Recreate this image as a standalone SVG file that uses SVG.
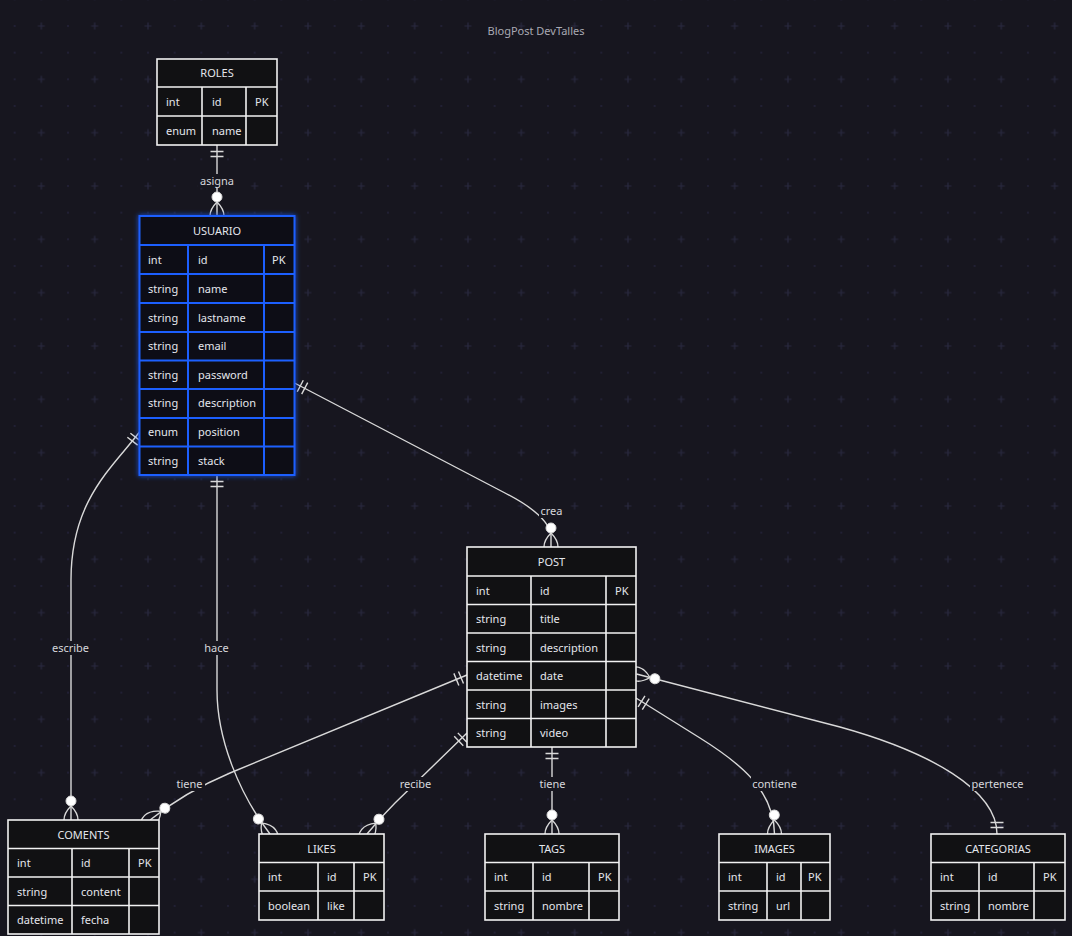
<svg xmlns="http://www.w3.org/2000/svg" width="1072" height="936" viewBox="0 0 1072 936">
  <defs>
    <pattern id="grid" patternUnits="userSpaceOnUse" x="14.67" y="-0.67" width="53.33" height="53.33">
      <circle cx="0" cy="0" r="1" fill="#23223a"/>
      <circle cx="26.67" cy="0" r="1" fill="#23223a"/>
      <circle cx="53.33" cy="0" r="1" fill="#23223a"/>
      <circle cx="0" cy="26.67" r="1" fill="#23223a"/>
      <circle cx="53.33" cy="26.67" r="1" fill="#23223a"/>
      <circle cx="0" cy="53.33" r="1" fill="#23223a"/>
      <circle cx="26.67" cy="53.33" r="1" fill="#23223a"/>
      <circle cx="53.33" cy="53.33" r="1" fill="#23223a"/>
      <path d="M23.2,26.67 H30.1 M26.67,23.2 V30.1" stroke="#29283f" stroke-width="1.2"/>
    </pattern>
    <!-- exactly one: two bars across the line near the entity -->
    <marker id="one" markerUnits="userSpaceOnUse" orient="auto-start-reverse" refX="0" refY="0" viewBox="-20 -10 40 20" markerWidth="40" markerHeight="20" overflow="visible">
      <path d="M-6.5,-6.5 V6.5 M-11.5,-6.5 V6.5" stroke="#d9d9d9" stroke-width="1.4" fill="none"/>
    </marker>
    <!-- zero or more: circle plus crow's foot -->
    <marker id="many0" markerUnits="userSpaceOnUse" orient="auto-start-reverse" refX="0" refY="0" viewBox="-30 -15 60 30" markerWidth="60" markerHeight="30" overflow="visible">
      <path d="M-14,0 Q0,-14 14,0 Q0,14 -14,0" stroke="#d9d9d9" stroke-width="1.3" fill="none"/>
      <circle cx="-19" cy="0" r="5" fill="#ffffff" stroke="#d9d9d9" stroke-width="1"/>
    </marker>
    <filter id="glow" x="-20%" y="-20%" width="140%" height="140%">
      <feGaussianBlur in="SourceGraphic" stdDeviation="2.5" result="b"/>
      <feMerge>
        <feMergeNode in="b"/>
        <feMergeNode in="SourceGraphic"/>
      </feMerge>
    </filter>
    <style>
      .bg { fill: #17161f; }
      .edge { fill: none; stroke: #d9d9d9; stroke-width: 1.4; marker-start: url(#one); marker-end: url(#many0); }
      .lbl { font-family: "Noto Sans", "Liberation Sans", sans-serif; font-size: 11px; fill: #d6d6dc; text-anchor: middle; }
      .lblbg { fill: #17161f; }
      .box { fill: #111113; stroke: #f2f2f2; stroke-width: 1.6; }
      .div { stroke: #f2f2f2; stroke-width: 1.6; fill: none; }
      .sel .box, .sel .div { stroke: #1f5fff; stroke-width: 2; }
      .t { font-family: "Noto Sans", "Liberation Sans", sans-serif; font-size: 11px; fill: #e4e6ec; }
      .h { text-anchor: middle; }
      .title { font-family: "Noto Sans", "Liberation Sans", sans-serif; font-size: 11px; fill: #a9a9b3; text-anchor: middle; }
    </style>
  </defs>

  <rect class="bg" x="0" y="0" width="1072" height="936"/>
  <rect x="0" y="0" width="1072" height="936" fill="url(#grid)"/>

  <text class="title" x="536" y="35">BlogPost DevTalles</text>

  <g id="connectors">
    <path class="edge" d="M217,145 V216"/>
    <path class="edge" d="M294.5,383 L505,493 Q548,515 551,535 L551,547"/>
    <path class="edge" d="M139.5,432 C112,468 71,500 71,580 L71,820"/>
    <path class="edge" d="M217,475 L217,690 C217,740 240,795 270,834"/>
    <path class="edge" d="M467,675 L230,773 Q185,792 150,820"/>
    <path class="edge" d="M467,733 L395,803 Q380,818 367,834"/>
    <path class="edge" d="M552,747 V834"/>
    <path class="edge" d="M636,698 L700,738 C740,763 774,790 774.5,834"/>
    <path class="edge" style="marker-start: url(#many0); marker-end: url(#one)" d="M636.5,674 L840,727 C930,752 997,790 997,834"/>

    <rect class="lblbg" x="198" y="174" width="38" height="14"/>
    <text class="lbl" x="217" y="185">asigna</text>
    <rect class="lblbg" x="539" y="504" width="25" height="14"/>
    <text class="lbl" x="551.5" y="515">crea</text>
    <rect class="lblbg" x="50" y="641" width="41" height="14"/>
    <text class="lbl" x="70.5" y="652">escribe</text>
    <rect class="lblbg" x="203" y="641" width="27" height="14"/>
    <text class="lbl" x="216.5" y="652">hace</text>
    <rect class="lblbg" x="174" y="777" width="31" height="14"/>
    <text class="lbl" x="189.5" y="788">tiene</text>
    <rect class="lblbg" x="397" y="777" width="37" height="14"/>
    <text class="lbl" x="415.5" y="788">recibe</text>
    <rect class="lblbg" x="537" y="777" width="31" height="14"/>
    <text class="lbl" x="552.5" y="788">tiene</text>
    <rect class="lblbg" x="751" y="777" width="47" height="14"/>
    <text class="lbl" x="774.5" y="788">contiene</text>
    <rect class="lblbg" x="970" y="777" width="54" height="14"/>
    <text class="lbl" x="997.5" y="788">pertenece</text>
  </g>

  <g id="ROLES">
    <rect class="box" x="157" y="59" width="120" height="86"/>
    <path class="div" d="M157,87 H277 M157,116 H277 M202,87 V145 M246,87 V145"/>
    <text class="t h" x="217" y="77">ROLES</text>
    <text class="t" x="166" y="105.5">int</text>
    <text class="t" x="212" y="105.5">id</text>
    <text class="t" x="255" y="105.5">PK</text>
    <text class="t" x="166" y="134.5">enum</text>
    <text class="t" x="212" y="134.5">name</text>
  </g>

  <g id="USUARIO" class="sel">
    <g filter="url(#glow)">
      <rect class="box" x="139.5" y="216" width="155" height="259"/>
      <path class="div" d="M139.5,245 H294.5 M139.5,274 H294.5 M139.5,303 H294.5 M139.5,332 H294.5 M139.5,360.5 H294.5 M139.5,389 H294.5 M139.5,418 H294.5 M139.5,446.5 H294.5 M188,245 V475 M264,245 V475"/>
    </g>
    <text class="t h" x="217" y="234.5">USUARIO</text>
    <text class="t" x="148" y="263.5">int</text>
    <text class="t" x="198" y="263.5">id</text>
    <text class="t" x="272" y="263.5">PK</text>
    <text class="t" x="148" y="292.5">string</text>
    <text class="t" x="198" y="292.5">name</text>
    <text class="t" x="148" y="321.5">string</text>
    <text class="t" x="198" y="321.5">lastname</text>
    <text class="t" x="148" y="350">string</text>
    <text class="t" x="198" y="350">email</text>
    <text class="t" x="148" y="378.5">string</text>
    <text class="t" x="198" y="378.5">password</text>
    <text class="t" x="148" y="407">string</text>
    <text class="t" x="198" y="407">description</text>
    <text class="t" x="148" y="436">enum</text>
    <text class="t" x="198" y="436">position</text>
    <text class="t" x="148" y="464.5">string</text>
    <text class="t" x="198" y="464.5">stack</text>
  </g>

  <g id="POST">
    <rect class="box" x="467" y="547" width="169" height="200"/>
    <path class="div" d="M467,576 H636 M467,604.5 H636 M467,633 H636 M467,661.5 H636 M467,690 H636 M467,718.5 H636 M531,576 V747 M606,576 V747"/>
    <text class="t h" x="551.5" y="565.5">POST</text>
    <text class="t" x="476" y="594.5">int</text>
    <text class="t" x="540" y="594.5">id</text>
    <text class="t" x="615" y="594.5">PK</text>
    <text class="t" x="476" y="623">string</text>
    <text class="t" x="540" y="623">title</text>
    <text class="t" x="476" y="651.5">string</text>
    <text class="t" x="540" y="651.5">description</text>
    <text class="t" x="476" y="680">datetime</text>
    <text class="t" x="540" y="680">date</text>
    <text class="t" x="476" y="708.5">string</text>
    <text class="t" x="540" y="708.5">images</text>
    <text class="t" x="476" y="737">string</text>
    <text class="t" x="540" y="737">video</text>
  </g>

  <g id="COMENTS">
    <rect class="box" x="8" y="820" width="151" height="114"/>
    <path class="div" d="M8,848.5 H159 M8,877 H159 M8,905.5 H159 M72,848.5 V934 M129,848.5 V934"/>
    <text class="t h" x="83.5" y="838.5">COMENTS</text>
    <text class="t" x="17" y="867">int</text>
    <text class="t" x="81" y="867">id</text>
    <text class="t" x="138" y="867">PK</text>
    <text class="t" x="17" y="895.5">string</text>
    <text class="t" x="81" y="895.5">content</text>
    <text class="t" x="17" y="924">datetime</text>
    <text class="t" x="81" y="924">fecha</text>
  </g>

  <g id="LIKES">
    <rect class="box" x="259" y="834" width="125" height="86"/>
    <path class="div" d="M259,862.5 H384 M259,891 H384 M318,862.5 V920 M354,862.5 V920"/>
    <text class="t h" x="321.5" y="852.5">LIKES</text>
    <text class="t" x="268" y="881">int</text>
    <text class="t" x="327" y="881">id</text>
    <text class="t" x="363" y="881">PK</text>
    <text class="t" x="268" y="909.5">boolean</text>
    <text class="t" x="327" y="909.5">like</text>
  </g>

  <g id="TAGS">
    <rect class="box" x="485" y="834" width="134" height="86"/>
    <path class="div" d="M485,862.5 H619 M485,891 H619 M533,862.5 V920 M589,862.5 V920"/>
    <text class="t h" x="552" y="852.5">TAGS</text>
    <text class="t" x="494" y="881">int</text>
    <text class="t" x="542" y="881">id</text>
    <text class="t" x="598" y="881">PK</text>
    <text class="t" x="494" y="909.5">string</text>
    <text class="t" x="542" y="909.5">nombre</text>
  </g>

  <g id="IMAGES">
    <rect class="box" x="719" y="834" width="111" height="86"/>
    <path class="div" d="M719,862.5 H830 M719,891 H830 M767,862.5 V920 M801,862.5 V920"/>
    <text class="t h" x="774.5" y="852.5">IMAGES</text>
    <text class="t" x="728" y="881">int</text>
    <text class="t" x="776" y="881">id</text>
    <text class="t" x="808" y="881">PK</text>
    <text class="t" x="728" y="909.5">string</text>
    <text class="t" x="776" y="909.5">url</text>
  </g>

  <g id="CATEGORIAS">
    <rect class="box" x="931" y="834" width="134" height="86"/>
    <path class="div" d="M931,862.5 H1065 M931,891 H1065 M979,862.5 V920 M1034,862.5 V920"/>
    <text class="t h" x="998" y="852.5">CATEGORIAS</text>
    <text class="t" x="940" y="881">int</text>
    <text class="t" x="988" y="881">id</text>
    <text class="t" x="1043" y="881">PK</text>
    <text class="t" x="940" y="909.5">string</text>
    <text class="t" x="988" y="909.5">nombre</text>
  </g>
</svg>
